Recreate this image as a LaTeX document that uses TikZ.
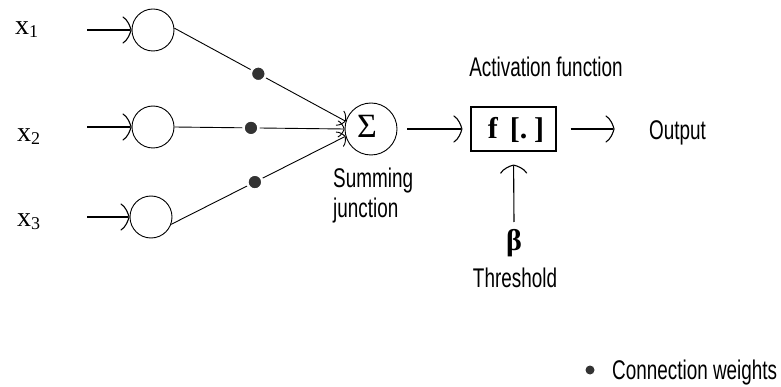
\documentclass[tikz,border=0pt]{standalone}
\usepackage{fontspec}
\setmainfont{Liberation Serif}
\newfontfamily\cond[FakeStretch=0.7]{Liberation Sans}
\usetikzlibrary{arrows.meta}
\pgfdeclarearrow{
  name = CurvedHead,
  parameters = {\the\pgfarrowlength,\the\pgfarrowwidth},
  setup code = {
    \pgfarrowssettipend{.5\pgflinewidth}
    \pgfarrowssetlineend{-.5\pgflinewidth}
    \pgfarrowssetbackend{-\pgfarrowlength}
    \pgfarrowssavethe\pgfarrowlength
    \pgfarrowssavethe\pgfarrowwidth
  },
  drawing code = {
    \pgfsetdash{}{0pt}
    \pgfsetroundcap
    \pgfsetroundjoin
    \pgfpathmoveto{\pgfqpoint{-\pgfarrowlength}{.5\pgfarrowwidth}}
    \pgfpathcurveto{\pgfqpoint{-.45\pgfarrowlength}{.4\pgfarrowwidth}}{\pgfqpoint{-.1\pgfarrowlength}{.15\pgfarrowwidth}}{\pgfqpoint{0pt}{0pt}}
    \pgfpathcurveto{\pgfqpoint{-.1\pgfarrowlength}{-.15\pgfarrowwidth}}{\pgfqpoint{-.45\pgfarrowlength}{-.4\pgfarrowwidth}}{\pgfqpoint{-\pgfarrowlength}{-.5\pgfarrowwidth}}
    \pgfusepathqstroke
  },
  defaults = {length = 7pt, width = 24pt}
}
\begin{document}
\begin{tikzpicture}[x=1pt,y=-1pt,
  neuron/.style={circle,draw,line width=0.9pt,inner sep=0pt,minimum size=42pt},
  sumnode/.style={circle,draw,line width=0.9pt,inner sep=0pt,minimum size=52pt},
  lbl/.style={font=\cond\fontsize{27}{30}\selectfont,inner sep=0pt},
  xlbl/.style={font=\fontsize{28}{30}\selectfont,inner sep=0pt,anchor=base west},
  arr/.style={line width=1.1pt,-{CurvedHead[length=8pt,width=26pt]}},
  warr/.style={line width=0.9pt,-{CurvedHead[length=6pt,width=16pt]}},
  wdot/.style={circle,fill=black!80,draw=white,line width=2.5pt,inner sep=0pt,minimum size=15pt},
  boxnode/.style={draw,line width=1.1pt,minimum width=85pt,minimum height=44pt,inner sep=0pt}]
\useasboundingbox (0,0) rectangle (781,387);
% input labels
\node[xlbl] (x1) at (15,35) {x\raisebox{-3pt}{\fontsize{18}{18}\selectfont 1}};
\node[xlbl] (x2) at (17,142) {x\raisebox{-3pt}{\fontsize{18}{18}\selectfont 2}};
\node[xlbl] (x3) at (17,227) {x\raisebox{-3pt}{\fontsize{18}{18}\selectfont 3}};
% input neurons
\node[neuron] (c1) at (153,30) {};
\node[neuron] (c2) at (153,127) {};
\node[neuron] (c3) at (151,217) {};
\coordinate (in1) at (87,30);
\coordinate (in2) at (87,127);
\coordinate (in3) at (87,217);
\draw[arr] (in1) -- (c1);
\draw[arr] (in2) -- (c2);
\draw[arr] (in3) -- (c3);
% summing junction
\node[sumnode] (sum) at (371,129) {};
\node[inner sep=0pt,anchor=base,font=\fontsize{34}{34}\selectfont] (sigma) at (367,138) {Σ};
\node[lbl,anchor=base west] (summing) at (333,188) {Summing};
\node[lbl,anchor=base west] (junction) at (333,218) {junction};
% weighted connections
\draw[warr] (c1.5) -- (sum.163) node[wdot,pos=0.49] (w1) {};
\draw[warr] (c2.east) -- (sum.west) node[wdot,pos=0.45] (w2) {};
\draw[warr] (c3.-20) -- (sum.196) node[wdot,pos=0.48] (w3) {};
% activation function
\node[boxnode] (fbox) at (513.5,129) {};
\node[inner sep=0pt,anchor=base,font=\bfseries\fontsize{30}{30}\selectfont] (ftext) at (516,139) {f\hspace{12pt}[.\hspace{7pt}]};
\node[lbl,anchor=base] (act) at (546,77) {Activation function};
\draw[arr,shorten <=10pt,shorten >=8pt] (sum.east) -- (fbox.west);
% output
\node[lbl,anchor=base west] (out) at (649,140) {Output};
\draw[arr,shorten <=14pt] (fbox.east) -- ++(58,0) coordinate (outend);
% threshold
\node[inner sep=0pt,anchor=base,font=\bfseries\fontsize{30}{30}\selectfont] (beta) at (514,251) {β};
\node[lbl,anchor=base] (thr) at (515,287) {Threshold};
\coordinate (tstart) at (514,222);
\draw[arr,shorten >=13pt] (tstart) -- (fbox.south);
% legend
\node[circle,fill=black!80,inner sep=0pt,minimum size=9pt] (legdot) at (590,370) {};
\node[lbl,anchor=base west] (legtxt) at (612,379) {Connection weights};
\end{tikzpicture}
\end{document}
